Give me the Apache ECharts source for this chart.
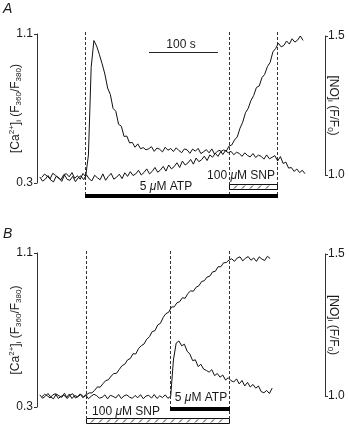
<!DOCTYPE html>
<html>
<head>
<meta charset="utf-8">
<script src="https://cdn.jsdelivr.net/npm/echarts@6/dist/echarts.min.js"></script>
<style>
  html, body { margin: 0; padding: 0; background: #fff; }
  #chart { width: 349px; height: 426px; }
</style>
</head>
<body>
<div id="chart"></div>
<script>
// sampling of the recordings (s)
const t0 = 7
const dt = 4

// panel A: ATP first, then SNP
const caA = [
  0.330, 0.348, 0.336, 0.322, 0.352, 0.341, 0.327, 0.318, 0.345, 0.350, 0.333, 0.356, 0.325, 0.339, 0.320, 0.351, 0.334,
  0.45, 0.92, 1.065, 1.035, 0.99, 0.94, 0.885, 0.81, 0.775, 0.70, 0.685, 0.615, 0.605, 0.55, 0.552, 0.515, 0.518, 0.492, 0.51, 0.484,
  0.490, 0.478, 0.484, 0.495, 0.470, 0.488, 0.481, 0.467, 0.492, 0.476, 0.485, 0.469, 0.489, 0.474, 0.463, 0.483,
  0.478, 0.459, 0.482, 0.471, 0.486, 0.458, 0.468, 0.479, 0.462, 0.483, 0.455, 0.470, 0.476, 0.453, 0.474, 0.462,
  0.470, 0.452, 0.465, 0.459, 0.443, 0.462, 0.448, 0.440, 0.458, 0.437, 0.450, 0.443, 0.428, 0.451, 0.430, 0.438, 0.447, 0.418,
  0.442, 0.405, 0.412, 0.380, 0.383, 0.362, 0.375, 0.356, 0.368, 0.350
]
const noA = [
  0.993, 0.978, 0.985, 0.998, 0.982, 0.975, 0.996, 0.989, 0.977, 1.000, 0.984, 0.981, 0.995, 0.976, 0.990, 0.997, 0.983,
  1.001, 0.986, 0.979, 0.999, 0.990, 0.983, 1.004, 0.981, 0.995, 1.006, 0.985, 0.992, 1.003, 0.987, 1.008, 0.995,
  1.012, 0.998, 1.004, 1.017, 1.000, 1.009, 1.022, 1.004, 1.013, 1.027, 1.010, 1.018, 1.031, 1.014, 1.036,
  1.022, 1.030, 1.044, 1.027, 1.050, 1.036, 1.043, 1.056, 1.039, 1.061, 1.048,
  1.055, 1.068, 1.052, 1.072, 1.064, 1.078, 1.067, 1.084, 1.090, 1.086,
  1.104, 1.108, 1.126, 1.137, 1.168, 1.190, 1.224, 1.240, 1.268, 1.286, 1.315, 1.320, 1.350, 1.362, 1.390, 1.405, 1.443, 1.455,
  1.474, 1.461, 1.466, 1.482, 1.471, 1.490, 1.478, 1.485, 1.500, 1.484
]
const atpA = [72, 351]
const snpA = [281, 351]
const scaleBar = [165, 265]

// panel B: SNP first, then ATP
const caB = [
  0.352, 0.366, 0.358, 0.347, 0.363, 0.369, 0.345, 0.355, 0.362, 0.349, 0.367, 0.344, 0.360, 0.353, 0.368, 0.348,
  0.364, 0.343, 0.356, 0.366, 0.359, 0.346, 0.350, 0.363, 0.342, 0.361, 0.355, 0.347, 0.365, 0.344, 0.358, 0.363,
  0.351, 0.345, 0.360, 0.348, 0.364, 0.343, 0.357, 0.361, 0.346, 0.365, 0.344, 0.358, 0.349, 0.363, 0.345, 0.356,
  0.544, 0.632, 0.643, 0.618, 0.626, 0.590, 0.575, 0.541, 0.545, 0.510, 0.522, 0.497, 0.490, 0.481, 0.494, 0.463,
  0.474, 0.455, 0.466, 0.440, 0.452, 0.437, 0.430, 0.446, 0.420, 0.438, 0.409, 0.428, 0.404, 0.417, 0.398, 0.409,
  0.380, 0.374, 0.386, 0.370, 0.398
]
const noB = [
  1.004, 0.992, 0.999, 1.009, 0.996, 0.990, 1.007, 1.001, 0.995, 1.010, 0.991, 1.003, 1.008, 0.993, 0.998, 1.006, 0.996,
  1.004, 1.011, 1.011, 1.020, 1.032, 1.031, 1.043, 1.054, 1.057, 1.070, 1.079, 1.080, 1.094, 1.107, 1.112, 1.127,
  1.132, 1.149, 1.148, 1.167, 1.177, 1.183, 1.200, 1.209, 1.227, 1.230, 1.250, 1.256, 1.277, 1.290, 1.295, 1.313,
  1.314, 1.328, 1.332, 1.346, 1.344, 1.361, 1.370, 1.369, 1.383, 1.388, 1.403, 1.406, 1.419, 1.422, 1.437, 1.439,
  1.455, 1.455, 1.469, 1.470, 1.479,
  1.483, 1.474, 1.486, 1.490, 1.476, 1.485, 1.491, 1.478, 1.486, 1.474, 1.490, 1.482, 1.477, 1.492, 1.484
]
const snpB = [74, 281]
const atpB = [196, 281]

const caTicks = [0.3, 1.1]
const noTicks = [1.0, 1.5]

const FONT = '"Liberation Sans", Arial, Helvetica, sans-serif'
const INK = '#1a1a1a'
const toPairs = arr => arr.map((v, i) => [t0 + i * dt, v])

// annotation marks (pixel rows are layout only)
const marks = [
  { kind: 'dash', t0: atpA[0], t1: atpA[0], y0: 32, y1: 194 },
  { kind: 'dash', t0: snpA[0], t1: snpA[0], y0: 32, y1: 194 },
  { kind: 'dash', t0: atpA[1], t1: atpA[1], y0: 32, y1: 194 },
  { kind: 'bar', t0: atpA[0], t1: atpA[1], y0: 194, y1: 198 },
  { kind: 'hatch', t0: snpA[0], t1: snpA[1], y0: 184, y1: 189 },
  { kind: 'scale', t0: scaleBar[0], t1: scaleBar[1], y0: 52, y1: 52 },
  { kind: 'dash', t0: snpB[0], t1: snpB[0], y0: 251, y1: 418 },
  { kind: 'dash', t0: atpB[0], t1: atpB[0], y0: 251, y1: 407 },
  { kind: 'dash', t0: atpB[1], t1: atpB[1], y0: 251, y1: 418 },
  { kind: 'bar', t0: atpB[0], t1: atpB[1], y0: 407, y1: 411 },
  { kind: 'hatch', t0: snpB[0], t1: snpB[1], y0: 418, y1: 423 },
]

function renderMark(params, api) {
  const m = marks[params.dataIndex]
  const xa = Math.round(api.coord([api.value(0), 0])[0])
  const xb = Math.round(api.coord([api.value(1), 0])[0])
  const ya = api.coord([0, m.y0])[1]
  const yb = api.coord([0, m.y1])[1]
  if (m.kind === 'dash') {
    return { type: 'line', shape: { x1: xa + 0.5, y1: ya, x2: xa + 0.5, y2: yb },
      style: { stroke: '#333', lineWidth: 1, lineDash: [3, 2] } }
  }
  if (m.kind === 'bar') {
    return { type: 'rect', shape: { x: xa, y: ya, width: xb - xa + 1, height: yb - ya }, style: { fill: '#000' } }
  }
  if (m.kind === 'scale') {
    return { type: 'line', shape: { x1: xa, y1: ya + 0.5, x2: xb, y2: ya + 0.5 }, style: { stroke: '#222', lineWidth: 1 } }
  }
  // hatched bar
  const children = [{ type: 'rect', shape: { x: xa + 0.5, y: ya + 0.5, width: xb - xa, height: yb - ya },
    style: { fill: '#fff', stroke: '#111', lineWidth: 1 } }]
  for (let x = xa + 5; x < xb - 3; x += 8) {
    children.push({ type: 'line', shape: { x1: x, y1: yb - 0.5, x2: x + 3, y2: ya + 1.5 },
      style: { stroke: '#222', lineWidth: 1 } })
  }
  return { type: 'group', children }
}

const subRich = {
  sup: { fontSize: 8, lineHeight: 8, verticalAlign: 'top', color: INK, fontFamily: FONT },
  sub: { fontSize: 8, lineHeight: 8, verticalAlign: 'bottom', color: INK, fontFamily: FONT },
}

function caAxis(grid) {
  return {
    type: 'value', gridIndex: grid, position: 'left', min: caTicks[0], max: caTicks[1],
    axisLine: { show: true, onZero: false, lineStyle: { color: '#333', width: 1 } },
    axisTick: { show: true, length: 3, customValues: caTicks, lineStyle: { color: '#333' } },
    axisLabel: { customValues: caTicks, formatter: v => v.toFixed(1), margin: 4, fontSize: 12, color: INK, fontFamily: FONT },
    splitLine: { show: false },
    name: '[Ca{sup|2+}]{sub|i} (F{sub|360}/F{sub|380})',
    nameLocation: 'middle', nameRotate: 90, nameGap: 14, nameMoveOverlap: false,
    nameTextStyle: { fontSize: 12, color: INK, fontFamily: FONT, lineHeight: 15, rich: subRich },
  }
}
function noAxis(grid) {
  return {
    type: 'value', gridIndex: grid, position: 'right', min: noTicks[0], max: noTicks[1],
    axisLine: { show: true, onZero: false, lineStyle: { color: '#333', width: 1 } },
    axisTick: { show: true, length: 3, customValues: noTicks, lineStyle: { color: '#333' } },
    axisLabel: { customValues: noTicks, formatter: v => v.toFixed(1), margin: 3, fontSize: 12, color: INK, fontFamily: FONT },
    splitLine: { show: false },
    name: '[NO]{sub|i} (F/F{sub|0})',
    nameLocation: 'middle', nameRotate: -90, nameGap: 1, nameMoveOverlap: false,
    nameTextStyle: { fontSize: 12, color: INK, fontFamily: FONT, lineHeight: 15, rich: subRich },
  }
}
const hiddenX = grid => ({ type: 'value', gridIndex: grid, min: 0, max: 423, show: false })
const trace = (data, axis) => ({
  type: 'line', data: toPairs(data), xAxisIndex: axis, yAxisIndex: axis,
  symbol: 'none', clip: false, silent: true,
  lineStyle: { color: '#111', width: 1 },
})
const label = (text, x, y) => ({
  type: 'text', x, y,
  style: { text, textAlign: 'center', textVerticalAlign: 'middle', fill: INK, font: '12px ' + FONT,
    rich: { m: { fontStyle: 'italic', fontSize: 12, fontFamily: FONT, fill: INK } } },
})

const chart = echarts.init(document.getElementById('chart'), null, { renderer: 'canvas' })
chart.setOption({
  animation: false,
  backgroundColor: '#fff',
  textStyle: { fontFamily: FONT },
  grid: [
    { left: 35, width: 292, top: 34, height: 149 },
    { left: 35, width: 292, top: 36, height: 139 },
    { left: 35, width: 292, top: 253, height: 154 },
    { left: 35, width: 292, top: 254, height: 142 },
    { left: 35, width: 292, top: 0, height: 426 },
  ],
  xAxis: [hiddenX(0), hiddenX(1), hiddenX(2), hiddenX(3), hiddenX(4)],
  yAxis: [caAxis(0), noAxis(1), caAxis(2), noAxis(3),
    { type: 'value', gridIndex: 4, min: 0, max: 426, inverse: true, show: false }],
  series: [
    trace(caA, 0), trace(noA, 1), trace(caB, 2), trace(noB, 3),
    {
      type: 'custom', xAxisIndex: 4, yAxisIndex: 4, silent: true, clip: false,
      data: marks.map(m => [m.t0, m.t1]),
      renderItem: renderMark,
    },
  ],
  graphic: [
    { type: 'text', left: 3, top: 2, style: { text: 'A', font: 'italic 14px ' + FONT, fill: INK } },
    { type: 'text', left: 3, top: 227, style: { text: 'B', font: 'italic 14px ' + FONT, fill: INK } },
    label('100 s', 181, 45),
    label('5 {m|μ}M ATP', 166, 187),
    label('100 {m|μ}M SNP', 241, 176),
    label('5 {m|μ}M ATP', 201, 398),
    label('100 {m|μ}M SNP', 126, 412),
  ],
})
</script>
</body>
</html>
